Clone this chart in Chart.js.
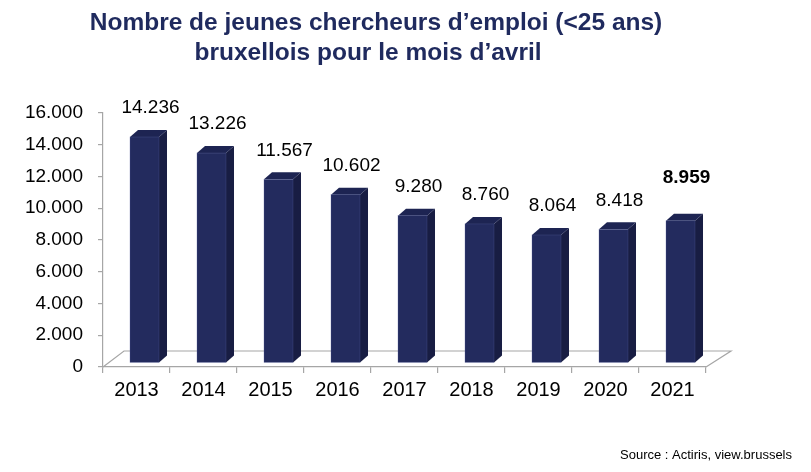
<!DOCTYPE html>
<html>
<head>
<meta charset="utf-8">
<script src="https://cdn.jsdelivr.net/npm/chart.js@4.4.1/dist/chart.umd.min.js"></script>
<style>
  html, body { margin: 0; padding: 0; background: #fff; }
  #wrap { width: 811px; height: 472px; }
</style>
</head>
<body>
<div id="wrap"><canvas id="canvas" width="811" height="472"></canvas></div>
<script>
// data
var years = ["2013", "2014", "2015", "2016", "2017", "2018", "2019", "2020", "2021"];
var seekers = [14236, 13226, 11567, 10602, 9280, 8760, 8064, 8418, 8959];
var yTicks = [0, 2000, 4000, 6000, 8000, 10000, 12000, 14000, 16000];
var titleLines = ["Nombre de jeunes chercheurs d\u2019emploi (<25 ans)", "bruxellois pour le mois d\u2019avril"];
var sourceText = "Source : Actiris, view.brussels";

var FONT = "'Liberation Sans', Arial, sans-serif";
var NAVY = "#232b5e";
var SIDE = "#181d43";
var TOP = "#1d2452";
var AXIS = "#a6a6a6";

function fmt(v) {
  // 16000 -> "16.000"
  var s = String(Math.round(v));
  return s.replace(/\B(?=(\d{3})+(?!\d))/g, ".");
}

// 3d boxes, floor, labels, title
var box3d = {
  id: "box3d",
  beforeDatasetsDraw: function(chart) {
    var ctx = chart.ctx, a = chart.chartArea;
    ctx.save();
    ctx.strokeStyle = AXIS;
    ctx.lineWidth = 1.2;
    ctx.beginPath();
    ctx.moveTo(a.left, a.bottom);
    ctx.lineTo(a.left + 21, a.bottom - 16);
    ctx.lineTo(a.right + 25, a.bottom - 16);
    ctx.lineTo(a.right, a.bottom);
    ctx.stroke();
    ctx.restore();
  },
  afterDatasetsDraw: function(chart) {
    var ctx = chart.ctx;
    var meta = chart.getDatasetMeta(0);
    var ox = 8, oy = -4, dx = 8, dy = -7;
    ctx.save();
    meta.data.forEach(function(el, i) {
      var p = el.getProps(["x", "y", "base", "width"], true);
      var l = p.x - p.width / 2 + ox, r = p.x + p.width / 2 + ox;
      var t = p.y + oy, b = p.base + oy;
      // side
      ctx.fillStyle = SIDE;
      ctx.beginPath();
      ctx.moveTo(r, b); ctx.lineTo(r + dx, b + dy); ctx.lineTo(r + dx, t + dy); ctx.lineTo(r, t);
      ctx.closePath(); ctx.fill();
      // top
      ctx.fillStyle = TOP;
      ctx.beginPath();
      ctx.moveTo(l, t); ctx.lineTo(l + dx, t + dy); ctx.lineTo(r + dx, t + dy); ctx.lineTo(r, t);
      ctx.closePath(); ctx.fill();
      // front
      ctx.fillStyle = NAVY;
      ctx.fillRect(l, t, r - l, b - t);
      ctx.strokeStyle = "rgba(90,100,160,0.5)";
      ctx.lineWidth = 0.6;
      ctx.strokeRect(l, t, r - l, b - t);

      // value label, last year in bold and a bit higher
      var last = i === seekers.length - 1;
      ctx.fillStyle = "#000";
      ctx.font = (last ? "bold " : "") + "19px " + FONT;
      ctx.textAlign = "center";
      ctx.textBaseline = "middle";
      ctx.fillText(fmt(seekers[i]), p.x + ox + 6, p.y - (last ? 47 : 33));
    });
    ctx.restore();
  },
  afterDraw: function(chart) {
    var ctx = chart.ctx;
    ctx.save();
    ctx.fillStyle = "#1f2a5e";
    ctx.font = "bold 24.5px " + FONT;
    ctx.textAlign = "center";
    ctx.textBaseline = "middle";
    ctx.fillText(titleLines[0], 376, 23);
    ctx.fillText(titleLines[1], 368, 53);
    ctx.fillStyle = "#000";
    ctx.font = "13px " + FONT;
    ctx.textAlign = "right";
    ctx.fillText(sourceText, 792, 455);
    ctx.restore();
  }
};

var ctx = document.getElementById("canvas").getContext("2d");
var chart = new Chart(ctx, {
  type: "bar",
  data: {
    labels: years,
    datasets: [{
      data: seekers,
      backgroundColor: "rgba(0,0,0,0)",
      categoryPercentage: 1,
      barPercentage: 0.433
    }]
  },
  options: {
    responsive: false,
    animation: false,
    layout: { padding: { top: 113, right: 105, bottom: 65, left: 0 } },
    plugins: {
      legend: { display: false },
      title: { display: false },
      tooltip: { enabled: false }
    },
    scales: {
      x: {
        grid: { offset: true, drawOnChartArea: false, tickLength: 6, color: AXIS, lineWidth: 1.2 },
        border: { color: AXIS, width: 1.2 },
        ticks: { color: "#000", font: { family: FONT, size: 20 }, padding: 5, maxRotation: 0 },
        afterFit: function(s) { s.height = 40; }
      },
      y: {
        min: 0,
        max: 16000,
        afterBuildTicks: function(s) { s.ticks = yTicks.map(function(v) { return { value: v }; }); },
        grid: { drawOnChartArea: false, tickLength: 5, color: AXIS, lineWidth: 1.2 },
        border: { color: AXIS, width: 1.2 },
        ticks: { color: "#000", font: { family: FONT, size: 19 }, padding: 15, callback: function(v) { return fmt(v); } },
        afterFit: function(s) { s.width = 103; }
      }
    }
  },
  plugins: [box3d]
});
</script>
</body>
</html>
